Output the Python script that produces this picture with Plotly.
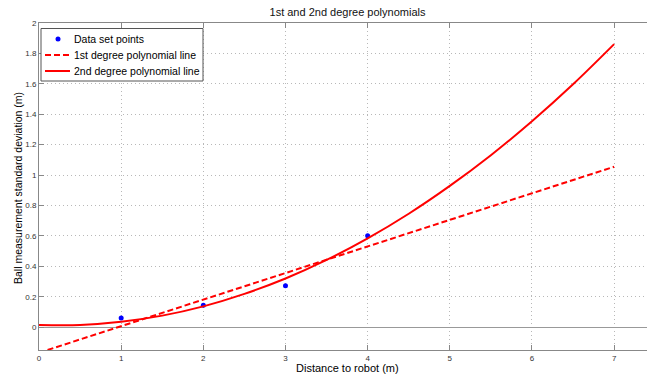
import plotly.graph_objects as go

# Measured data set
data_x = [1, 2, 3, 4]
data_y = [0.061, 0.145, 0.273, 0.601]

# 1st degree polynomial line
lin_x = [0, 1, 2, 3, 4, 5, 6, 7]
lin_y = [-0.168, 0.007, 0.181, 0.356, 0.530, 0.705, 0.880, 1.055]

# 2nd degree polynomial line
quad_x = [0, 0.5, 1, 1.5, 2, 2.5, 3, 3.5, 4, 4.5, 5, 5.5, 6, 6.5, 7]
quad_y = [0.015, 0.015, 0.036, 0.076, 0.137, 0.219, 0.320, 0.442, 0.584,
          0.746, 0.929, 1.131, 1.354, 1.597, 1.861]

series_names = ["Data set points", "1st degree polynomial line", "2nd degree polynomial line"]
title_text = "1st and 2nd degree polynomials"
x_title = "Distance to robot (m)"
y_title = "Ball measurement standard deviation (m)"

FONT = "Liberation Sans, Arial, Helvetica, sans-serif"
W, H = 647, 376
ML, MR, MT, MB = 39, 0, 23, 26
PW, PH = W - ML - MR, H - MT - MB


def px(xp):
    return (xp - ML) / PW


def py(yp):
    return (H - MB - yp) / PH


fig = go.Figure()
fig.add_trace(go.Scatter(
    x=data_x, y=data_y, mode="markers", name=series_names[0],
    marker=dict(color="#0000ff", size=5),
))
fig.add_trace(go.Scatter(
    x=lin_x, y=lin_y, mode="lines", name=series_names[1],
    line=dict(color="#ff0000", width=2, dash="6px,3px"),
))
fig.add_trace(go.Scatter(
    x=quad_x, y=quad_y, mode="lines", name=series_names[2],
    line=dict(color="#ff0000", width=2, shape="spline"),
))

axis_common = dict(
    showline=True, linecolor="#888888", linewidth=1,
    ticks="inside", ticklen=5, tickcolor="#888888",
    showgrid=True, gridcolor="#b8b8b8", griddash="1px,3px", gridwidth=1,
    tickfont=dict(family=FONT, size=8, color="#333333"),
    automargin=False,
)

# Custom legend box (MATLAB style, compact)
shapes = [dict(type="rect", xref="paper", yref="paper",
               x0=px(41), x1=px(203), y0=py(81), y1=py(28.5),
               line=dict(color="#555555", width=1), fillcolor="white", layer="above")]
rows = [39, 55, 71]
shapes.append(dict(type="circle", xref="paper", yref="paper",
                   x0=px(55.5), x1=px(60.5), y0=py(rows[0] + 2.5), y1=py(rows[0] - 2.5),
                   line=dict(color="#0000ff", width=0), fillcolor="#0000ff", layer="above"))
shapes.append(dict(type="line", xref="paper", yref="paper",
                   x0=px(45), x1=px(70), y0=py(rows[1]), y1=py(rows[1]),
                   line=dict(color="#ff0000", width=2, dash="6px,3px"), layer="above"))
shapes.append(dict(type="line", xref="paper", yref="paper",
                   x0=px(45), x1=px(70), y0=py(rows[2]), y1=py(rows[2]),
                   line=dict(color="#ff0000", width=2), layer="above"))

annotations = []
for name, r in zip(series_names, rows):
    annotations.append(dict(text=name, xref="paper", yref="paper", x=px(72), y=py(r),
                            xanchor="left", yanchor="middle", showarrow=False,
                            font=dict(family=FONT, size=10.5, color="#000000")))
annotations.append(dict(text=x_title, xref="paper", yref="paper", x=px(347.5), y=py(368),
                        xanchor="center", yanchor="middle", showarrow=False,
                        font=dict(family=FONT, size=11, color="#000000")))
annotations.append(dict(text=y_title, xref="paper", yref="paper", x=px(18), y=py(188),
                        xanchor="center", yanchor="middle", showarrow=False, textangle=-90,
                        font=dict(family=FONT, size=10.5, color="#000000")))

fig.update_layout(
    width=W, height=H,
    margin=dict(l=ML, r=MR, t=MT, b=MB),
    paper_bgcolor="white", plot_bgcolor="white",
    font=dict(family=FONT, color="#000000"),
    title=dict(text=title_text, x=(347.5) / W, xanchor="center", y=(H - 12) / H, yanchor="middle",
               font=dict(family=FONT, size=11, color="#111111")),
    showlegend=False,
    shapes=shapes,
    annotations=annotations,
    xaxis=dict(range=[0, 7.4], dtick=1, tick0=0, mirror="ticks", zeroline=False,
               **axis_common),
    yaxis=dict(range=[-0.15, 2], dtick=0.2, tick0=0, mirror=False,
               zeroline=True, zerolinecolor="#999999", zerolinewidth=1,
               **axis_common),
)

fig.write_html("out.html", config={"displayModeBar": False},
               post_script="document.body.style.margin='0px';document.body.style.padding='0px';")
